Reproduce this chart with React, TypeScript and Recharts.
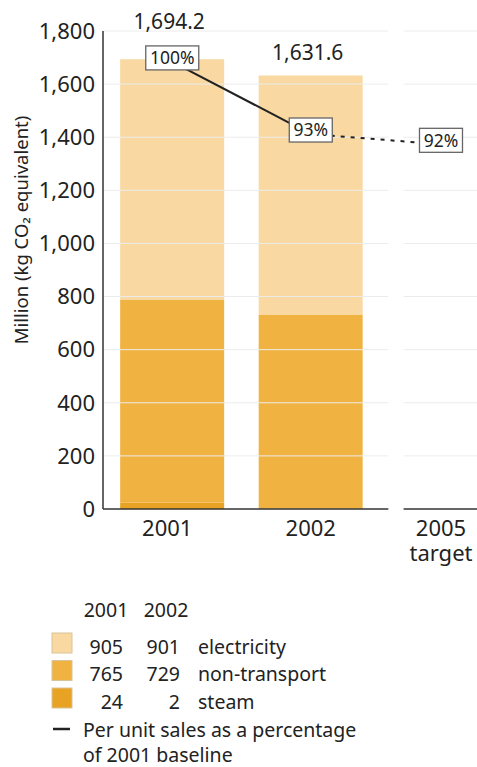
import { ComposedChart, Bar, Line, XAxis, YAxis, ReferenceLine, LabelList } from 'recharts'

// years shown along the bottom; the 2005 slot only carries the target
const years = ['2001', '2002', '2005']
const yearPos = [0.5, 1.5, 2.44]
const electricity = [905, 901, null]
const nonTransport = [765, 729, null]
const steam = [24, 2, null]
const totals = [1694.2, 1631.6, null]
// per unit sales as % of the 2001 baseline
const perUnitPct = [100, 93, 92]
const yTicks = [0, 200, 400, 600, 800, 1000, 1200, 1400, 1600, 1800]

const FONT = '"Noto Sans", sans-serif'
const INK = '#222'
const C_ELEC = '#f9d9a1'
const C_NONTR = '#f0b342'
const C_STEAM = '#e8a224'

const data = years.map((year, i) => ({
  year,
  x: yearPos[i],
  electricity: electricity[i],
  nonTransport: nonTransport[i],
  steam: steam[i],
  total: totals[i],
  solid: i <= 1 ? perUnitPct[i] : null,
  dashed: i >= 1 ? perUnitPct[i] : null,
  pct: perUnitPct[i],
}))

// main panel and the separate target panel, in x units
const mainSpan: [number, number] = [0, 2.06]
const targetSpan: [number, number] = [2.17, 2.7]

function YearTick({ x, y, index }: any) {
  const tx = x - (index === 0 ? 5 : 0)
  return (
    <g fontFamily={FONT} fontSize={22} fill={INK}>
      <text x={tx} y={y + 27} textAnchor="middle">
        {years[index]}
      </text>
      {index === 2 && (
        <text x={tx} y={y + 52} textAnchor="middle">
          target
        </text>
      )}
    </g>
  )
}

function PctTag({ x, y, value }: any) {
  const label = `${value}%`
  const w = label.length * 10 + 13
  const cy = y - 4
  return (
    <g>
      <rect x={x - w / 2} y={cy - 12} width={w} height={24} fill="#fff" stroke="#666" strokeWidth={1.3} />
      <text x={x} y={cy} dy="0.36em" textAnchor="middle" fontFamily={FONT} fontSize={17.5} fill={INK}>
        {label}
      </text>
    </g>
  )
}

function TotalLabel({ x, y, width, index }: any) {
  const v = totals[index]
  if (v == null) return null
  // the 2001 total sits above the 100% tag
  const lift = index === 0 ? 38 : 23
  return (
    <text x={x + width / 2 - 3} y={y - lift} dy="0.36em" textAnchor="middle" fontFamily={FONT} fontSize={21} fill={INK}>
      {v.toLocaleString('en-US', { minimumFractionDigits: 1 })}
    </text>
  )
}

const legendRows = [
  { name: 'electricity', color: C_ELEC, vals: [electricity[0], electricity[1]] },
  { name: 'non-transport', color: C_NONTR, vals: [nonTransport[0], nonTransport[1]] },
  { name: 'steam', color: C_STEAM, vals: [steam[0], steam[1]] },
]

export default function App() {
  return (
    <div style={{ position: 'absolute', left: 0, top: 0, width: 477, height: 767, background: '#fff' }}>
      <ComposedChart width={477} height={580} data={data} margin={{ top: 31, right: 0, bottom: 21, left: 0 }}>
        {yTicks.slice(1).map((t) => (
          <ReferenceLine key={`g${t}`} segment={[{ x: mainSpan[0], y: t }, { x: mainSpan[1], y: t }]} stroke="#ececec" strokeWidth={1} />
        ))}
        {yTicks.slice(1).map((t) => (
          <ReferenceLine key={`h${t}`} segment={[{ x: targetSpan[0], y: t }, { x: targetSpan[1], y: t }]} stroke="#ececec" strokeWidth={1} />
        ))}
        <XAxis
          dataKey="x"
          type="number"
          domain={[0, 2.7]}
          ticks={yearPos}
          axisLine={false}
          tickLine={false}
          tickSize={0}
          tickMargin={0}
          height={50}
          tick={<YearTick />}
          interval={0}
        />
        <YAxis
          domain={[0, 1800]}
          ticks={yTicks}
          width={103}
          tickLine={false}
          tickSize={0}
          tickMargin={8}
          axisLine={{ stroke: '#333', strokeWidth: 1.5 }}
          tickFormatter={(v: number) => v.toLocaleString('en-US')}
          tick={{ fontFamily: FONT, fontSize: 22, fill: INK }}
        />
        <YAxis yAxisId="pct" domain={[56.6, 103]} hide width={0} />
        <Bar dataKey="steam" stackId="a" fill={C_STEAM} barSize={104} isAnimationActive={false} />
        <Bar dataKey="nonTransport" stackId="a" fill={C_NONTR} barSize={104} isAnimationActive={false} />
        <Bar dataKey="electricity" stackId="a" fill={C_ELEC} barSize={104} isAnimationActive={false}>
          <LabelList dataKey="total" content={<TotalLabel />} />
        </Bar>
        <ReferenceLine segment={[{ x: mainSpan[0], y: 0 }, { x: mainSpan[1], y: 0 }]} stroke="#333" strokeWidth={1.5} />
        <ReferenceLine segment={[{ x: targetSpan[0], y: 0 }, { x: targetSpan[1], y: 0 }]} stroke="#333" strokeWidth={1.5} />
        <Line yAxisId="pct" dataKey="solid" stroke={INK} strokeWidth={2} dot={false} connectNulls={false} isAnimationActive={false} />
        <Line yAxisId="pct" dataKey="dashed" stroke={INK} strokeWidth={2} strokeDasharray="4 6" dot={false} isAnimationActive={false} />
        <Line yAxisId="pct" dataKey="pct" stroke="none" dot={false} activeDot={false} isAnimationActive={false}>
          <LabelList dataKey="pct" content={<PctTag />} />
        </Line>
        <text x={21} y={230} transform="rotate(-90 21 230)" textAnchor="middle" dy="0.36em" fontFamily={FONT} fontSize={18.5} fill={INK}>
          Million (kg CO₂ equivalent)
        </text>
      </ComposedChart>

      <svg width={477} height={187} style={{ position: 'absolute', left: 0, top: 580 }} fontFamily={FONT} fill={INK}>
        <text x={106} y={37} fontSize={19.5} textAnchor="middle">2001</text>
        <text x={166} y={37} fontSize={19.5} textAnchor="middle">2002</text>
        {legendRows.map((r, i) => {
          const base = 73.5 + i * 27.5
          return (
            <g key={r.name}>
              <rect x={52} y={base - 20.5} width={20} height={20} fill={r.color} stroke="#d9c39a" strokeWidth={1} />
              <text x={123} y={base} fontSize={19.5} textAnchor="end">{r.vals[0]}</text>
              <text x={180} y={base} fontSize={19.5} textAnchor="end">{r.vals[1]}</text>
              <text x={198} y={base} fontSize={19.5}>{r.name}</text>
            </g>
          )
        })}
        <line x1={53} x2={70} y1={149} y2={149} stroke={INK} strokeWidth={2.5} />
        <text x={83} y={157} fontSize={19.5}>Per unit sales as a percentage</text>
        <text x={83} y={182} fontSize={19.5}>of 2001 baseline</text>
      </svg>
    </div>
  )
}
